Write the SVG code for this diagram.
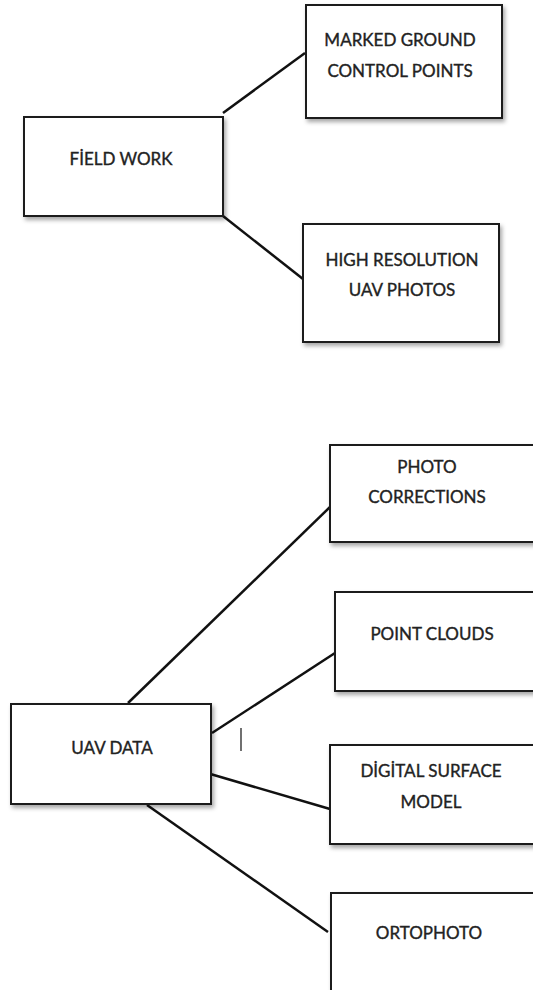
<svg xmlns="http://www.w3.org/2000/svg" width="533" height="990" viewBox="0 0 533 990">
<defs>
<filter id="sh" x="-10%" y="-10%" width="125%" height="130%">
<feDropShadow dx="2" dy="3" stdDeviation="2" flood-color="#000" flood-opacity="0.35"/>
</filter>
</defs>
<style>
.box{fill:#fff;stroke:#1a1a1a;stroke-width:2;filter:url(#sh)}
.t{font-family:Lato,"Open Sans","Liberation Sans",sans-serif;font-size:17px;fill:#222;stroke:#222;stroke-width:0.35;text-anchor:middle}
.c{stroke:#111;stroke-width:2.5;fill:none}
</style>
<rect width="533" height="990" fill="#fff"/>
<g id="connectors">
<line class="c" x1="223" y1="113" x2="305" y2="53"/>
<line class="c" x1="223" y1="216" x2="303" y2="279"/>
<line class="c" x1="128" y1="703" x2="330" y2="507"/>
<line class="c" x1="212" y1="733" x2="335" y2="653"/>
<line class="c" x1="207" y1="773" x2="330" y2="809"/>
<line class="c" x1="147" y1="805" x2="328" y2="932"/>
</g>
<g id="field-work">
<rect class="box" x="24" y="117" width="199" height="99"/>
<text class="t" x="121" y="165">FİELD WORK</text>
</g>
<g id="marked-ground">
<rect class="box" x="306" y="5" width="196" height="113"/>
<text class="t" x="400" y="46">MARKED GROUND</text>
<text class="t" x="400" y="77">CONTROL POINTS</text>
</g>
<g id="high-resolution">
<rect class="box" x="303" y="224" width="196" height="118"/>
<text class="t" x="402" y="266">HIGH RESOLUTION</text>
<text class="t" x="402" y="296">UAV PHOTOS</text>
</g>
<g id="uav-data">
<rect class="box" x="11" y="704" width="200" height="100"/>
<text class="t" x="112" y="754">UAV DATA</text>
</g>
<g id="photo-corrections">
<rect class="box" x="330" y="445" width="215" height="97"/>
<text class="t" x="427" y="473">PHOTO</text>
<text class="t" x="427" y="503">CORRECTIONS</text>
</g>
<g id="point-clouds">
<rect class="box" x="335" y="592" width="210" height="99"/>
<text class="t" x="432" y="640">POINT CLOUDS</text>
</g>
<g id="digital-surface-model">
<rect class="box" x="330" y="745" width="215" height="99"/>
<text class="t" x="431" y="777">DİGİTAL SURFACE</text>
<text class="t" x="431" y="808">MODEL</text>
</g>
<g id="ortophoto">
<rect class="box" x="331" y="893" width="214" height="110"/>
<text class="t" x="429" y="939">ORTOPHOTO</text>
</g>
<line x1="241" y1="728" x2="241" y2="751" stroke="#111" stroke-width="1.2"/>
</svg>
